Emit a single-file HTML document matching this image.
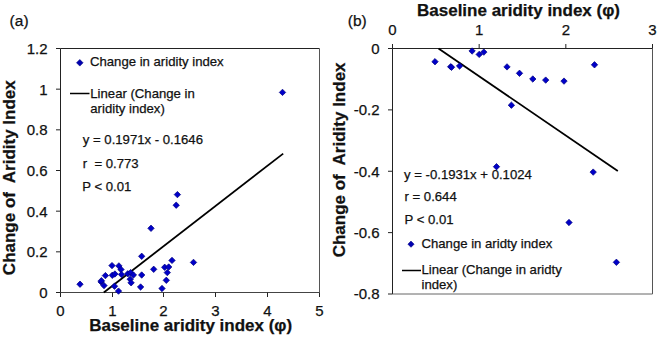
<!DOCTYPE html>
<html><head><meta charset="utf-8"><style>
html,body{margin:0;padding:0;background:#fff;}
svg{display:block;}
text{font-family:"Liberation Sans", sans-serif;stroke:#111;stroke-width:0.25px;}
</style></head><body>
<svg width="660" height="338" viewBox="0 0 660 338">
<rect width="660" height="338" fill="#fff"/>
<text x="9.6" y="25.7" font-size="15.5" fill="#111">(a)</text>
<g stroke="#222" stroke-width="1" fill="none">
<path d="M60.5 48.5H319.5" />
<path d="M319.5 48.5V292.5" stroke="#555"/>
<path d="M60.5 48.5V292.5"/>
<path d="M60.5 292.5H319.5" stroke="#444"/>
<path d="M56 292.50H60.5"/>
<path d="M56 251.83H60.5"/>
<path d="M56 211.17H60.5"/>
<path d="M56 170.50H60.5"/>
<path d="M56 129.83H60.5"/>
<path d="M56 89.17H60.5"/>
<path d="M56 48.50H60.5"/>
<path d="M60.5 292.5V297"/>
<path d="M112.5 292.5V297"/>
<path d="M163.5 292.5V297"/>
<path d="M215.5 292.5V297"/>
<path d="M267.5 292.5V297"/>
<path d="M319.5 292.5V297"/>
</g>
<text x="47.5" y="297.8" font-size="15" text-anchor="end" fill="#111">0</text>
<text x="47.5" y="257.1" font-size="15" text-anchor="end" fill="#111">0.2</text>
<text x="47.5" y="216.5" font-size="15" text-anchor="end" fill="#111">0.4</text>
<text x="47.5" y="175.8" font-size="15" text-anchor="end" fill="#111">0.6</text>
<text x="47.5" y="135.1" font-size="15" text-anchor="end" fill="#111">0.8</text>
<text x="47.5" y="94.5" font-size="15" text-anchor="end" fill="#111">1</text>
<text x="47.5" y="53.8" font-size="15" text-anchor="end" fill="#111">1.2</text>
<text x="60.5" y="315.5" font-size="15" text-anchor="middle" fill="#111">0</text>
<text x="112.5" y="315.5" font-size="15" text-anchor="middle" fill="#111">1</text>
<text x="163.5" y="315.5" font-size="15" text-anchor="middle" fill="#111">2</text>
<text x="215.5" y="315.5" font-size="15" text-anchor="middle" fill="#111">3</text>
<text x="267.5" y="315.5" font-size="15" text-anchor="middle" fill="#111">4</text>
<text x="319.5" y="315.5" font-size="15" text-anchor="middle" fill="#111">5</text>
<text x="190.7" y="330.5" font-size="17" font-weight="bold" text-anchor="middle" fill="#111">Baseline aridity index (φ)</text>
<text transform="translate(15 177.7) rotate(-90)" x="0" y="0" font-size="17" font-weight="bold" text-anchor="middle" fill="#111" style="white-space:pre">Change of  Aridity Index</text>
<path d="M103.8 292.5L283.2 153.6" stroke="#000" stroke-width="1.8" fill="none"/>
<g fill="#0000b0" stroke="#000080" stroke-width="0.6"><path d="M79.8 59.5L83.1 62.8L79.8 66.1L76.5 62.8Z"/></g>
<text x="90" y="66" font-size="13.15" fill="#111">Change in aridity index</text>
<path d="M70 93.5H89.5" stroke="#000" stroke-width="1.5"/>
<text x="90.3" y="97.6" font-size="13.15" fill="#111">Linear (Change in</text>
<text x="90.3" y="112.6" font-size="13.15" fill="#111">aridity index)</text>
<text x="82.8" y="144" font-size="13.15" fill="#111">y = 0.1971x - 0.1646</text>
<text x="82.8" y="167.5" font-size="13.15" fill="#111" style="white-space:pre">r  = 0.773</text>
<text x="82.3" y="191" font-size="13.15" fill="#111">P &lt; 0.01</text>
<g fill="#0000c8" stroke="#000080" stroke-width="0.7"><path d="M80.0 281.0L83.2 284.2L80.0 287.4L76.8 284.2Z"/><path d="M101.1 278.7L104.3 281.9L101.1 285.1L97.9 281.9Z"/><path d="M104.0 282.4L107.2 285.6L104.0 288.8L100.8 285.6Z"/><path d="M105.4 272.4L108.6 275.6L105.4 278.8L102.2 275.6Z"/><path d="M112.0 262.4L115.2 265.6L112.0 268.8L108.8 265.6Z"/><path d="M112.3 272.1L115.5 275.3L112.3 278.5L109.1 275.3Z"/><path d="M114.9 270.8L118.1 274.0L114.9 277.2L111.7 274.0Z"/><path d="M114.5 283.0L117.7 286.2L114.5 289.4L111.3 286.2Z"/><path d="M118.5 287.9L121.7 291.1L118.5 294.3L115.3 291.1Z"/><path d="M118.9 262.7L122.1 265.9L118.9 269.1L115.7 265.9Z"/><path d="M121.0 266.3L124.2 269.5L121.0 272.7L117.8 269.5Z"/><path d="M121.5 271.3L124.7 274.5L121.5 277.7L118.3 274.5Z"/><path d="M127.8 270.6L131.0 273.8L127.8 277.0L124.6 273.8Z"/><path d="M130.6 269.4L133.8 272.6L130.6 275.8L127.4 272.6Z"/><path d="M133.4 271.8L136.6 275.0L133.4 278.2L130.2 275.0Z"/><path d="M130.2 276.0L133.4 279.2L130.2 282.4L127.0 279.2Z"/><path d="M131.1 279.6L134.3 282.8L131.1 286.0L127.9 282.8Z"/><path d="M141.7 271.8L144.9 275.0L141.7 278.2L138.5 275.0Z"/><path d="M140.6 283.8L143.8 287.0L140.6 290.2L137.4 287.0Z"/><path d="M141.7 253.1L144.9 256.3L141.7 259.5L138.5 256.3Z"/><path d="M151.0 225.1L154.2 228.3L151.0 231.5L147.8 228.3Z"/><path d="M153.7 266.1L156.9 269.3L153.7 272.5L150.5 269.3Z"/><path d="M162.0 285.3L165.2 288.5L162.0 291.7L158.8 288.5Z"/><path d="M164.7 264.1L167.9 267.3L164.7 270.5L161.5 267.3Z"/><path d="M168.7 263.8L171.9 267.0L168.7 270.2L165.5 267.0Z"/><path d="M167.3 269.4L170.5 272.6L167.3 275.8L164.1 272.6Z"/><path d="M166.3 277.1L169.5 280.3L166.3 283.5L163.1 280.3Z"/><path d="M172.0 257.2L175.2 260.4L172.0 263.6L168.8 260.4Z"/><path d="M176.2 202.0L179.4 205.2L176.2 208.4L173.0 205.2Z"/><path d="M177.4 191.4L180.6 194.6L177.4 197.8L174.2 194.6Z"/><path d="M193.5 259.2L196.7 262.4L193.5 265.6L190.3 262.4Z"/><path d="M282.5 89.2L285.7 92.4L282.5 95.6L279.3 92.4Z"/><path d="M101.4 277.5L104.6 280.7L101.4 283.9L98.2 280.7Z"/></g>
<text x="347.8" y="25.7" font-size="15.5" fill="#111">(b)</text>
<g stroke="#222" stroke-width="1" fill="none">
<path d="M392.5 48.5H652.5"/>
<path d="M652.5 48.5V294.0" stroke="#555"/>
<path d="M392.5 48.5V294.0"/>
<path d="M392.5 294.0H652.5" stroke="#666"/>
<path d="M388 48.50H392.5"/>
<path d="M388 109.88H392.5"/>
<path d="M388 171.25H392.5"/>
<path d="M388 232.62H392.5"/>
<path d="M388 294.00H392.5"/>
<path d="M392.50 48.5V44"/>
<path d="M479.17 48.5V44"/>
<path d="M565.83 48.5V44"/>
<path d="M652.50 48.5V44"/>
</g>
<text x="379.5" y="53.8" font-size="15" text-anchor="end" fill="#111">0</text>
<text x="379.5" y="115.2" font-size="15" text-anchor="end" fill="#111">-0.2</text>
<text x="379.5" y="176.6" font-size="15" text-anchor="end" fill="#111">-0.4</text>
<text x="379.5" y="237.9" font-size="15" text-anchor="end" fill="#111">-0.6</text>
<text x="379.5" y="299.3" font-size="15" text-anchor="end" fill="#111">-0.8</text>
<text x="392.5" y="35.2" font-size="15" text-anchor="middle" fill="#111">0</text>
<text x="479.2" y="35.2" font-size="15" text-anchor="middle" fill="#111">1</text>
<text x="565.8" y="35.2" font-size="15" text-anchor="middle" fill="#111">2</text>
<text x="652.5" y="35.2" font-size="15" text-anchor="middle" fill="#111">3</text>
<text x="518.5" y="16" font-size="17" font-weight="bold" text-anchor="middle" fill="#111">Baseline aridity index (φ)</text>
<text transform="translate(345 159.9) rotate(-90)" x="0" y="0" font-size="17" font-weight="bold" text-anchor="middle" fill="#111" style="white-space:pre">Change of  Aridity Index</text>
<path d="M438.5 48.5L617.8 171.1" stroke="#000" stroke-width="1.8" fill="none"/>
<text x="404" y="178.5" font-size="13.15" fill="#111">y = -0.1931x + 0.1024</text>
<text x="404.5" y="200.6" font-size="13.15" fill="#111">r = 0.644</text>
<text x="404.5" y="224.2" font-size="13.15" fill="#111">P &lt; 0.01</text>
<g fill="#0000b0" stroke="#000080" stroke-width="0.6"><path d="M411.0 241.1L414.1 244.2L411.0 247.3L407.9 244.2Z"/></g>
<text x="421.5" y="248.2" font-size="13.15" fill="#111">Change in aridty index</text>
<path d="M402 270.5H421" stroke="#000" stroke-width="1.5"/>
<text x="421.5" y="274.4" font-size="13.15" fill="#111">Linear (Change in aridty</text>
<text x="421.5" y="289" font-size="13.15" fill="#111">index)</text>
<g fill="#0000c8" stroke="#000080" stroke-width="0.7"><path d="M435.0 58.5L438.2 61.7L435.0 64.9L431.8 61.7Z"/><path d="M450.7 63.5L453.9 66.7L450.7 69.9L447.5 66.7Z"/><path d="M451.5 64.1L454.7 67.3L451.5 70.5L448.3 67.3Z"/><path d="M459.6 62.8L462.8 66.0L459.6 69.2L456.4 66.0Z"/><path d="M472.1 47.8L475.3 51.0L472.1 54.2L468.9 51.0Z"/><path d="M479.2 51.2L482.4 54.4L479.2 57.6L476.0 54.4Z"/><path d="M483.8 48.9L487.0 52.1L483.8 55.3L480.6 52.1Z"/><path d="M496.5 163.5L499.7 166.7L496.5 169.9L493.3 166.7Z"/><path d="M507.0 63.7L510.2 66.9L507.0 70.1L503.8 66.9Z"/><path d="M511.4 102.0L514.6 105.2L511.4 108.4L508.2 105.2Z"/><path d="M519.5 70.1L522.7 73.3L519.5 76.5L516.3 73.3Z"/><path d="M532.8 75.8L536.0 79.0L532.8 82.2L529.6 79.0Z"/><path d="M545.7 76.9L548.9 80.1L545.7 83.3L542.5 80.1Z"/><path d="M564.0 77.9L567.2 81.1L564.0 84.3L560.8 81.1Z"/><path d="M569.0 219.3L572.2 222.5L569.0 225.7L565.8 222.5Z"/><path d="M593.2 168.9L596.4 172.1L593.2 175.3L590.0 172.1Z"/><path d="M594.5 61.6L597.7 64.8L594.5 68.0L591.3 64.8Z"/><path d="M616.4 259.1L619.6 262.3L616.4 265.5L613.2 262.3Z"/></g>
</svg></body></html>
